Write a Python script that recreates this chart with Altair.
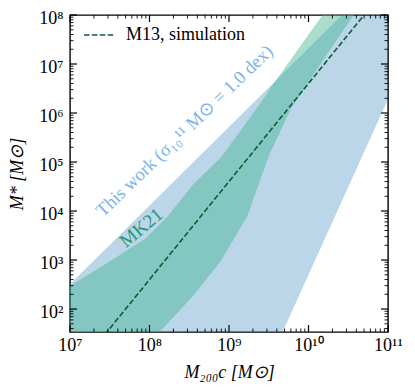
import altair as alt
import pandas as pd

# ---------------- data ----------------
x_domain = [1e7, 1e11]
y_domain = [34, 1e8]

# "This work" band (sigma = 1.0 dex): halo mass and the band's stellar-mass edges
tw_mhalo = [1e7, 4.8e9, 1e11]
tw_upper = [3.2e2, 6.5e6, 8.5e8]
tw_lower = [1e-8, 3.6e1, 1.9e6]

# MK21 band
mk_mhalo = [1e7, 4.0e7, 8.7e7, 1.35e8, 1.7e8, 3.55e8, 7.9e8, 1.7e9, 2.8e9,
            3.3e9, 4.2e9, 5.9e9, 1.5e10, 3.7e10]
mk_upper = [2.95e2, 1.2e3, 2.7e3, 5.4e3, 7.8e3, 3.5e4, 1.23e5, 6.8e5, 2.1e6,
            3.2e6, 5.5e6, 1.2e7, 1.0e8, 7.6e8]
mk_lower = [0.37, 4.2, 16, 35, 51, 186, 955, 7.8e3, 7.6e4,
            1.55e5, 3.5e5, 1.17e6, 1.15e7, 1.0e8]

# M13 simulation relation (dashed line)
m13_label = "M13, simulation"
m13_mhalo = [1e7, 1e11]
m13_mstar = [4.0, 4.0e8]

# annotations
tw_text = "This work (σ₁₀¹¹ M⊙ = 1.0 dex)"
tw_text_pos = [3.1e8, 3.55e5]
mk_text = "MK21"
mk_text_pos = [8.77e7, 3.66e3]

# ticks
x_ticks = [1e7, 1e8, 1e9, 1e10, 1e11]
x_tick_labels = ["10⁷", "10⁸", "10⁹", "10¹⁰", "10¹¹"]
y_ticks = [1e2, 1e3, 1e4, 1e5, 1e6, 1e7, 1e8]
y_tick_labels = ["10²", "10³", "10⁴", "10⁵", "10⁶", "10⁷", "10⁸"]
x_minor = [m * 10.0 ** k for k in range(7, 11) for m in range(2, 10)]
y_minor = [m * 10.0 ** k for k in range(1, 8) for m in range(2, 10) if m * 10.0 ** k >= 40]

# ---------------- chart ----------------
W, H = 318, 317
FONT = "Liberation Serif"
FS = 18
MAJ, MIN = 7, 3.5


def label_expr(vals, labels):
    expr = f"'{labels[-1]}'"
    for v, l in reversed(list(zip(vals[:-1], labels[:-1]))):
        expr = f"datum.value < {v * 3:g} ? '{l}' : " + expr
    return expr


xs = alt.Scale(type="log", domain=x_domain, nice=False)
ys = alt.Scale(type="log", domain=y_domain, nice=False)

x_axis = alt.Axis(values=x_ticks, labelExpr=label_expr(x_ticks, x_tick_labels),
                  ticks=False, domain=False, grid=False, labelFlush=False,
                  labelOverlap=False, labelFont=FONT, labelFontSize=FS,
                  labelColor="black", labelPadding=4,
                  title="M₂₀₀c [M⊙]", titleFont=FONT, titleFontSize=FS,
                  titleFontWeight="normal", titleFontStyle="italic",
                  titleColor="black", titlePadding=9)
y_axis = alt.Axis(values=y_ticks, labelExpr=label_expr(y_ticks, y_tick_labels),
                  ticks=False, domain=False, grid=False, labelFlush=False,
                  labelOverlap=False, labelFont=FONT, labelFontSize=FS,
                  labelColor="black", labelPadding=7, labelBaseline="middle",
                  labelOffset=3,
                  title="M* [M⊙]", titleFont=FONT, titleFontSize=FS,
                  titleFontWeight="normal", titleFontStyle="italic",
                  titleColor="black", titlePadding=12)

tw_df = pd.DataFrame({"m": tw_mhalo, "lo": tw_lower, "hi": tw_upper})
mk_df = pd.DataFrame({"m": mk_mhalo, "lo": mk_lower, "hi": mk_upper})
m13_df = pd.DataFrame({"m": m13_mhalo, "s": m13_mstar, "label": [m13_label] * 2})

tw_band = alt.Chart(tw_df).mark_area(clip=True, color="#1f77b4", opacity=0.3).encode(
    x=alt.X("m:Q", scale=xs, axis=x_axis),
    y=alt.Y("hi:Q", scale=ys, axis=y_axis),
    y2="lo:Q",
)
mk_band = alt.Chart(mk_df).mark_area(clip=True, color="#42b392", opacity=0.45).encode(
    x=alt.X("m:Q", scale=xs), y=alt.Y("hi:Q", scale=ys), y2="lo:Q"
)
m13_line = alt.Chart(m13_df).mark_line(clip=True, strokeDash=[5.5, 2.4], strokeWidth=1.6).encode(
    x=alt.X("m:Q", scale=xs),
    y=alt.Y("s:Q", scale=ys),
    color=alt.Color("label:N",
                    scale=alt.Scale(domain=[m13_label], range=["#0b5e30"]),
                    legend=alt.Legend(title=None, orient="none", legendX=13, legendY=4,
                                      symbolType="stroke", symbolSize=900,
                                      symbolStrokeWidth=1.6, symbolDash=[5.5, 2.4],
                                      labelFont=FONT, labelFontSize=FS,
                                      labelColor="black", labelOffset=11, padding=0)),
)

tw_lab = alt.Chart(pd.DataFrame({"x": [tw_text_pos[0]], "y": [tw_text_pos[1]], "t": [tw_text]})).mark_text(
    angle=316, align="center", baseline="alphabetic", font=FONT, fontSize=FS + 0.5, color="#78b4ea"
).encode(x=alt.X("x:Q", scale=xs), y=alt.Y("y:Q", scale=ys), text="t:N")
mk_lab = alt.Chart(pd.DataFrame({"x": [mk_text_pos[0]], "y": [mk_text_pos[1]], "t": [mk_text]})).mark_text(
    angle=320, align="center", baseline="alphabetic", font=FONT, fontSize=FS + 1, color="#1f9a78"
).encode(x=alt.X("x:Q", scale=xs), y=alt.Y("y:Q", scale=ys), text="t:N")


# inward ticks on all four sides
def xticks(vals, size, width):
    d = pd.DataFrame({"m": vals})
    bot = alt.Chart(d).mark_rule(color="black", strokeWidth=width).encode(
        x=alt.X("m:Q", scale=xs), y=alt.value(H), y2=alt.value(H - size))
    top = alt.Chart(d).mark_rule(color="black", strokeWidth=width).encode(
        x=alt.X("m:Q", scale=xs), y=alt.value(0), y2=alt.value(size))
    return [bot, top]


def yticks(vals, size, width):
    d = pd.DataFrame({"s": vals})
    left = alt.Chart(d).mark_rule(color="black", strokeWidth=width).encode(
        y=alt.Y("s:Q", scale=ys), x=alt.value(0), x2=alt.value(size))
    right = alt.Chart(d).mark_rule(color="black", strokeWidth=width).encode(
        y=alt.Y("s:Q", scale=ys), x=alt.value(W), x2=alt.value(W - size))
    return [left, right]


tick_layers = (xticks(x_ticks, MAJ, 1.2) + xticks(x_minor, MIN, 0.9)
               + yticks(y_ticks, MAJ, 1.2) + yticks(y_minor, MIN, 0.9))

chart = alt.layer(tw_band, mk_band, m13_line, tw_lab, mk_lab, *tick_layers).properties(
    width=W, height=H,
    padding={"left": 62, "top": 7, "right": 19, "bottom": 51},
    autosize=alt.AutoSizeParams(type="none"),
).configure_view(stroke="black", strokeWidth=1.4)

chart.save("out.html", embed_options={"renderer": "svg", "actions": False})
